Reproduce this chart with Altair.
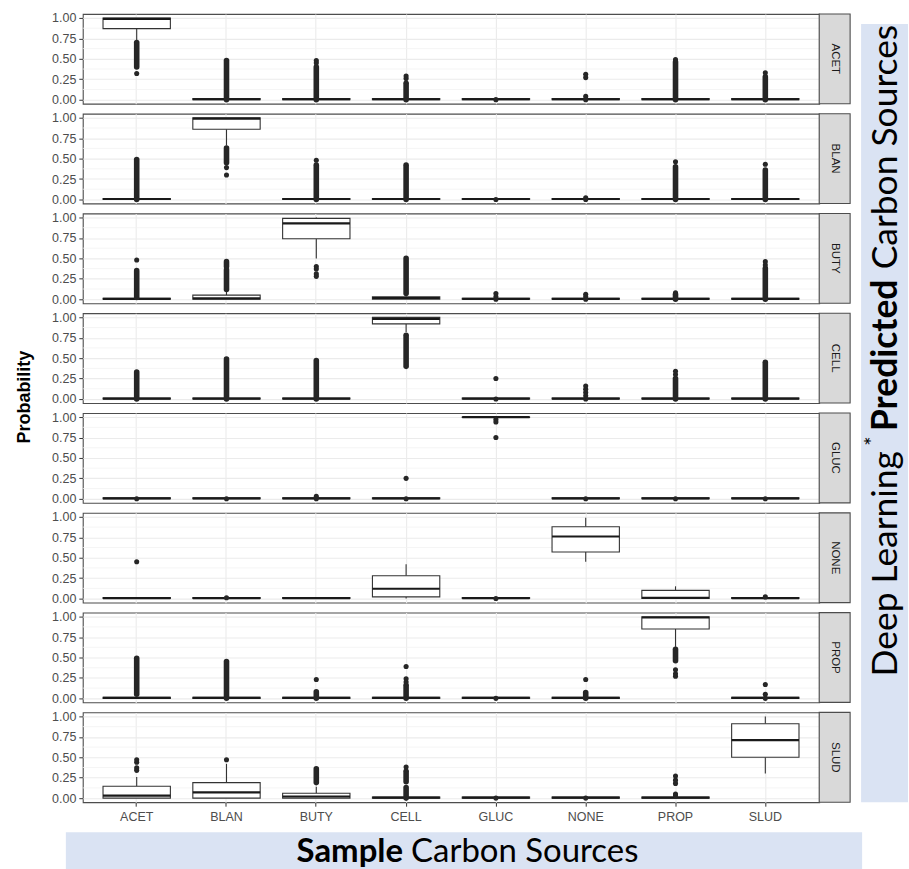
import altair as alt
import pandas as pd

# ---------------- data ----------------
PRED = ["ACET", "BLAN", "BUTY", "CELL", "GLUC", "NONE", "PROP", "SLUD"]
SAMPLE = ["ACET", "BLAN", "BUTY", "CELL", "GLUC", "NONE", "PROP", "SLUD"]

# box statistics: one row per predicted class, one column per sample class
Q1 = [
    [0.87, 0, 0, 0, 0, 0, 0, 0],
    [0, 0.86, 0, 0, 0, 0, 0, 0],
    [0, 0, 0.74, 0, 0, 0, 0, 0],
    [0, 0, 0, 0.92, 0, 0, 0, 0],
    [0, 0, 0, 0, 0.995, 0, 0, 0],
    [0, 0, 0, 0.02, 0, 0.57, 0, 0],
    [0, 0, 0, 0, 0, 0, 0.85, 0],
    [0, 0, 0, 0, 0, 0, 0, 0.50],
]
MEDIAN = [
    [0.99, 0.005, 0.005, 0.005, 0.005, 0.005, 0.005, 0.005],
    [0.005, 0.99, 0.005, 0.005, 0.005, 0.005, 0.005, 0.005],
    [0.005, 0.01, 0.93, 0.015, 0.005, 0.005, 0.005, 0.005],
    [0.005, 0.005, 0.005, 0.98, 0.005, 0.005, 0.005, 0.005],
    [0.005, 0.005, 0.005, 0.005, 1.0, 0.005, 0.005, 0.005],
    [0.005, 0.005, 0.005, 0.12, 0.005, 0.76, 0.01, 0.005],
    [0.005, 0.005, 0.005, 0.005, 0.005, 0.005, 0.99, 0.005],
    [0.03, 0.07, 0.02, 0.005, 0.005, 0.005, 0.005, 0.71],
]
Q3 = [
    [1.0, 0.012, 0.012, 0.012, 0.012, 0.012, 0.012, 0.012],
    [0.012, 1.0, 0.012, 0.012, 0.012, 0.012, 0.012, 0.012],
    [0.012, 0.05, 0.99, 0.03, 0.012, 0.012, 0.012, 0.012],
    [0.012, 0.012, 0.012, 1.0, 0.012, 0.012, 0.012, 0.012],
    [0.012, 0.012, 0.012, 0.012, 1.0, 0.012, 0.012, 0.012],
    [0.012, 0.012, 0.012, 0.28, 0.012, 0.88, 0.10, 0.012],
    [0.012, 0.012, 0.012, 0.012, 0.012, 0.012, 1.0, 0.012],
    [0.145, 0.19, 0.06, 0.012, 0.012, 0.012, 0.012, 0.91],
]
WHISKER_LOW = [
    [0.72, 0, 0, 0, 0, 0, 0, 0],
    [0, 0.66, 0, 0, 0, 0, 0, 0],
    [0, 0, 0.50, 0, 0, 0, 0, 0],
    [0, 0, 0, 0.82, 0, 0, 0, 0],
    [0, 0, 0, 0, 0.99, 0, 0, 0],
    [0, 0, 0, 0.0, 0, 0.45, 0, 0],
    [0, 0, 0, 0, 0, 0, 0.63, 0],
    [0, 0, 0, 0, 0, 0, 0, 0.30],
]
WHISKER_HIGH = [
    [1.0, 0.012, 0.012, 0.012, 0.012, 0.012, 0.012, 0.012],
    [0.012, 1.0, 0.012, 0.012, 0.012, 0.012, 0.012, 0.012],
    [0.012, 0.10, 1.0, 0.06, 0.012, 0.012, 0.012, 0.012],
    [0.012, 0.012, 0.012, 1.0, 0.012, 0.012, 0.012, 0.012],
    [0.012, 0.012, 0.012, 0.012, 1.0, 0.012, 0.012, 0.012],
    [0.012, 0.012, 0.012, 0.42, 0.012, 0.99, 0.15, 0.012],
    [0.012, 0.012, 0.012, 0.012, 0.012, 0.012, 1.0, 0.012],
    [0.26, 0.42, 0.14, 0.012, 0.012, 0.012, 0.012, 1.0],
]

# isolated outliers (pred, sample) -> values
OUTLIER_POINTS = {
    ("ACET", "ACET"): [0.32],
    ("ACET", "BUTY"): [0.45, 0.48],
    ("ACET", "CELL"): [0.26, 0.29],
    ("ACET", "GLUC"): [0.0],
    ("ACET", "NONE"): [0.0, 0.04, 0.27, 0.31],
    ("ACET", "PROP"): [0.49],
    ("ACET", "SLUD"): [0.33],
    ("BLAN", "BLAN"): [0.39, 0.30],
    ("BLAN", "BUTY"): [0.48],
    ("BLAN", "GLUC"): [0.0],
    ("BLAN", "NONE"): [0.0, 0.02],
    ("BLAN", "PROP"): [0.46],
    ("BLAN", "SLUD"): [0.43],
    ("BUTY", "ACET"): [0.48],
    ("BUTY", "BUTY"): [0.40, 0.37, 0.31, 0.28],
    ("BUTY", "GLUC"): [0.0, 0.03, 0.07],
    ("BUTY", "NONE"): [0.0, 0.03, 0.06],
    ("BUTY", "PROP"): [0.08],
    ("BUTY", "SLUD"): [0.42, 0.46],
    ("CELL", "GLUC"): [0.0, 0.25],
    ("CELL", "NONE"): [0.0, 0.04, 0.08, 0.12, 0.16],
    ("CELL", "PROP"): [0.30, 0.34],
    ("GLUC", "ACET"): [0.0],
    ("GLUC", "BLAN"): [0.0],
    ("GLUC", "BUTY"): [0.0, 0.03],
    ("GLUC", "CELL"): [0.0, 0.25],
    ("GLUC", "GLUC"): [0.97, 0.94, 0.75],
    ("GLUC", "NONE"): [0.0],
    ("GLUC", "PROP"): [0.0],
    ("GLUC", "SLUD"): [0.0],
    ("NONE", "ACET"): [0.45],
    ("NONE", "BLAN"): [0.01],
    ("NONE", "GLUC"): [0.0],
    ("NONE", "SLUD"): [0.02],
    ("PROP", "BUTY"): [0.23],
    ("PROP", "CELL"): [0.20, 0.24, 0.39],
    ("PROP", "GLUC"): [0.0],
    ("PROP", "NONE"): [0.23],
    ("PROP", "PROP"): [0.35, 0.30, 0.27],
    ("PROP", "SLUD"): [0.0, 0.05, 0.17],
    ("SLUD", "ACET"): [0.34, 0.37, 0.44, 0.47],
    ("SLUD", "BLAN"): [0.47],
    ("SLUD", "CELL"): [0.38],
    ("SLUD", "GLUC"): [0.0],
    ("SLUD", "NONE"): [0.0],
    ("SLUD", "PROP"): [0.03, 0.05, 0.18, 0.22, 0.27],
}

# runs of overlapping outliers that read as solid columns: (from, to)
OUTLIER_RUNS = {
    ("ACET", "ACET"): [(0.40, 0.70)],
    ("ACET", "BLAN"): [(0.0, 0.48)],
    ("ACET", "BUTY"): [(0.0, 0.40)],
    ("ACET", "CELL"): [(0.0, 0.20)],
    ("ACET", "PROP"): [(0.0, 0.46)],
    ("ACET", "SLUD"): [(0.0, 0.28)],
    ("BLAN", "ACET"): [(0.0, 0.49)],
    ("BLAN", "BLAN"): [(0.45, 0.63)],
    ("BLAN", "BUTY"): [(0.0, 0.42)],
    ("BLAN", "CELL"): [(0.0, 0.42)],
    ("BLAN", "PROP"): [(0.0, 0.40)],
    ("BLAN", "SLUD"): [(0.0, 0.36)],
    ("BUTY", "ACET"): [(0.02, 0.35)],
    ("BUTY", "BLAN"): [(0.12, 0.36), (0.40, 0.46)],
    ("BUTY", "CELL"): [(0.07, 0.50)],
    ("BUTY", "PROP"): [(0.0, 0.06)],
    ("BUTY", "SLUD"): [(0.0, 0.38)],
    ("CELL", "ACET"): [(0.0, 0.33)],
    ("CELL", "BLAN"): [(0.0, 0.49)],
    ("CELL", "BUTY"): [(0.0, 0.47)],
    ("CELL", "CELL"): [(0.40, 0.78)],
    ("CELL", "PROP"): [(0.0, 0.25)],
    ("CELL", "SLUD"): [(0.0, 0.45)],
    ("PROP", "ACET"): [(0.05, 0.49)],
    ("PROP", "BLAN"): [(0.0, 0.45)],
    ("PROP", "BUTY"): [(0.0, 0.08)],
    ("PROP", "CELL"): [(0.0, 0.16)],
    ("PROP", "NONE"): [(0.0, 0.07)],
    ("PROP", "PROP"): [(0.46, 0.60)],
    ("SLUD", "BUTY"): [(0.19, 0.36)],
    ("SLUD", "CELL"): [(0.0, 0.13), (0.20, 0.33)],
}

Y_TICKS = [0, 0.25, 0.5, 0.75, 1.0]
MINOR_GRID = [0.125, 0.375, 0.625, 0.875]

# ---------------- table ----------------
rows = []
for i, p in enumerate(PRED):
    for j, s in enumerate(SAMPLE):
        rows.append(dict(pred=p, sample=s, kind="box", q1=Q1[i][j], med=MEDIAN[i][j],
                         q3=Q3[i][j], lo=WHISKER_LOW[i][j], hi=WHISKER_HIGH[i][j]))
        for v in OUTLIER_POINTS.get((p, s), []):
            rows.append(dict(pred=p, sample=s, kind="pt", v=v))
        for a, b in OUTLIER_RUNS.get((p, s), []):
            rows.append(dict(pred=p, sample=s, kind="seg", s0=a, s1=b))
df = pd.DataFrame(rows)

# ---------------- chart ----------------
W, H = 738, 90
INK = "#262626"
BAND = "#dae3f3"
TXTFONT = "Lato"

X = alt.X("sample:N", sort=SAMPLE, title=None,
          scale=alt.Scale(domain=SAMPLE, paddingInner=0.25, paddingOuter=0.225),
          axis=alt.Axis(labelAngle=0, bandPosition=0.5, grid=True, labelPadding=4))


def Yq(field):
    return alt.Y(field, type="quantitative",
                 scale=alt.Scale(domain=[-0.05, 1.05], nice=False, zero=False),
                 axis=alt.Axis(values=Y_TICKS, format=".2f", title=None, grid=True,
                               labelPadding=3))


BOX = "datum.kind == 'box'"
ONE_PER_ROW = "datum.kind == 'box' && datum.sample == 'ACET'"

minor = (alt.Chart().transform_filter(ONE_PER_ROW)
         .transform_calculate(g=str(MINOR_GRID)).transform_flatten(["g"])
         .mark_rule(color="#f3f3f3", strokeWidth=0.8)
         .encode(y=Yq("g")))

strip_rect = (alt.Chart().transform_filter(ONE_PER_ROW)
              .mark_rect(fill="#d9d9d9", stroke="#4d4d4d", strokeWidth=1.1)
              .encode(x=alt.value(W), x2=alt.value(W + 31), y=alt.value(0), y2=alt.value(H)))
strip_text = (alt.Chart().transform_filter(ONE_PER_ROW)
              .mark_text(angle=90, fontSize=11.5, color="#1a1a1a", font="Liberation Sans")
              .encode(x=alt.value(W + 15.5), y=alt.value(H / 2), text="pred:N"))

whisk_hi = (alt.Chart().transform_filter(BOX)
            .mark_rule(color="#333333", strokeWidth=1.1)
            .encode(x=X, y=Yq("q3"), y2="hi"))
whisk_lo = (alt.Chart().transform_filter(BOX)
            .mark_rule(color="#333333", strokeWidth=1.1)
            .encode(x=X, y=Yq("q1"), y2="lo"))
box = (alt.Chart().transform_filter(BOX)
       .mark_rect(fill="white", stroke="#333333", strokeWidth=1.1)
       .encode(x=X, y=Yq("q1"), y2="q3"))
median = (alt.Chart().transform_filter(BOX)
          .mark_rect(fillOpacity=0, stroke="#1a1a1a", strokeWidth=2.2)
          .encode(x=X, y=Yq("med"), y2="med"))
runs = (alt.Chart().transform_filter("datum.kind == 'seg'")
        .mark_rule(color=INK, strokeWidth=5.6, strokeCap="round")
        .encode(x=X, y=Yq("s0"), y2="s1"))
points = (alt.Chart().transform_filter("datum.kind == 'pt'")
          .mark_circle(color=INK, size=26, opacity=1)
          .encode(x=X, y=Yq("v")))

# decorations placed relative to particular panels
TOP = "datum.kind == 'box' && datum.sample == 'ACET' && datum.pred == 'ACET'"
MID = "datum.kind == 'box' && datum.sample == 'ACET' && datum.pred == 'GLUC'"
BOT = "datum.kind == 'box' && datum.sample == 'ACET' && datum.pred == 'SLUD'"

RS = 35.5  # right-hand title size
anchor = (alt.Chart().transform_filter(TOP).mark_rect(fill="white", opacity=0)
          .encode(x=alt.value(-82), x2=alt.value(827), y=alt.value(-12), y2=alt.value(-11)))
right_band = (alt.Chart().transform_filter(TOP).mark_rect(fill=BAND)
              .encode(x=alt.value(780), x2=alt.value(827), y=alt.value(10), y2=alt.value(790)))
rt1 = (alt.Chart().transform_filter(TOP)
       .mark_text(text="Deep Learning", angle=270, align="right", baseline="middle",
                  font=TXTFONT, fontSize=RS, color="black")
       .encode(x=alt.value(805), y=alt.value(438)))
rt2 = (alt.Chart().transform_filter(TOP)
       .mark_text(text="*", angle=270, align="center", baseline="middle",
                  font=TXTFONT, fontSize=22, color="black")
       .encode(x=alt.value(792), y=alt.value(428)))
rt3 = (alt.Chart().transform_filter(TOP)
       .mark_text(text="Predicted", angle=270, align="left", baseline="middle",
                  font=TXTFONT, fontSize=RS, fontWeight="bold", color="black")
       .encode(x=alt.value(805), y=alt.value(418)))
rt4 = (alt.Chart().transform_filter(TOP)
       .mark_text(text="Carbon Sources", angle=270, align="left", baseline="middle",
                  font=TXTFONT, fontSize=RS, color="black")
       .encode(x=alt.value(805), y=alt.value(256)))

ylab = (alt.Chart().transform_filter(MID)
        .mark_text(text="Probability", angle=270, align="center", baseline="middle",
                   font="Liberation Sans", fontSize=18, fontWeight="bold", color="black")
        .encode(x=alt.value(-58), y=alt.value(-16)))

bottom_band = (alt.Chart().transform_filter(BOT).mark_rect(fill=BAND)
               .encode(x=alt.value(-17), x2=alt.value(781), y=alt.value(120), y2=alt.value(157)))
bt1 = (alt.Chart().transform_filter(BOT)
       .mark_text(text="Sample", align="right", baseline="middle",
                  font=TXTFONT, fontSize=33, fontWeight="bold", color="black")
       .encode(x=alt.value(321), y=alt.value(140)))
bt2 = (alt.Chart().transform_filter(BOT)
       .mark_text(text="Carbon Sources", align="left", baseline="middle",
                  font=TXTFONT, fontSize=33, color="black")
       .encode(x=alt.value(329), y=alt.value(140)))

layered = alt.layer(
    minor, strip_rect, strip_text, whisk_hi, whisk_lo, box, median, runs, points,
    anchor, right_band, rt1, rt2, rt3, rt4, ylab, bottom_band, bt1, bt2,
    data=df,
).properties(width=W, height=H)

chart = (
    layered.facet(
        row=alt.Row("pred:N", sort=PRED, title=None, header=alt.Header(labels=False)),
        spacing=10,
        bounds="flush",
    )
    .properties(padding=0)
    .configure_view(stroke="#4d4d4d", strokeWidth=1.1)
    .configure_axis(labelFont="Liberation Sans", labelFontSize=12.5, labelColor="#4d4d4d",
                    tickColor="#333333", tickSize=4, domain=False,
                    gridColor="#ebebeb", gridWidth=1.1)
)

chart.save("out.html", embed_options={"renderer": "svg", "actions": False})
